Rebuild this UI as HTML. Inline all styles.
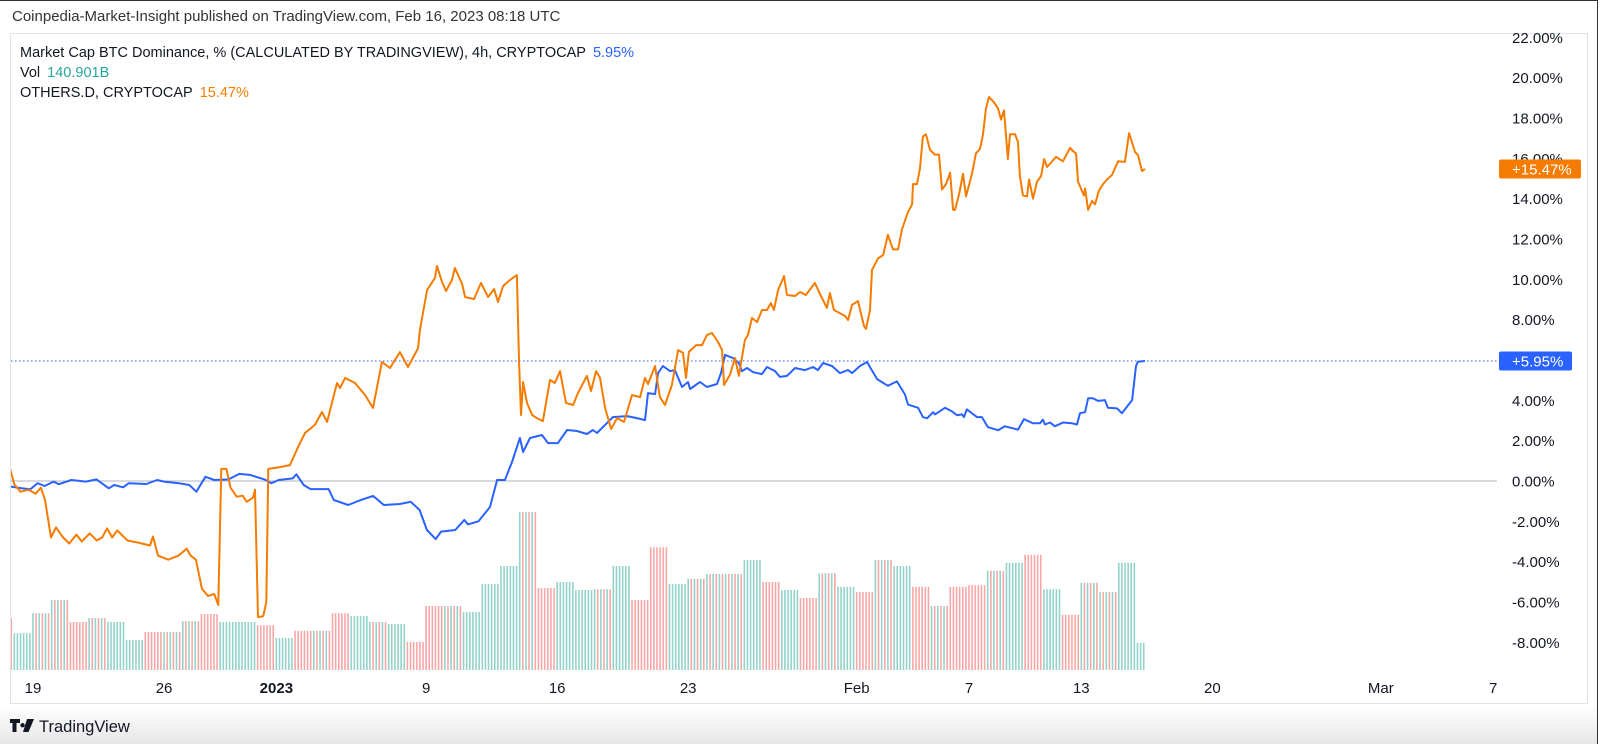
<!DOCTYPE html>
<html><head><meta charset="utf-8">
<style>
html,body{margin:0;padding:0;background:#fff;}
body{width:1600px;height:744px;overflow:hidden;position:relative;font-family:"Liberation Sans",sans-serif;color:#131722;}
#hdr{position:absolute;left:12px;top:8px;font-size:15px;color:#333;}
#foot{position:absolute;left:0;top:706px;width:1600px;height:38px;background:linear-gradient(#fff,#e6e6e7);}
#topline{position:absolute;left:0;top:0;width:1600px;height:1px;background:#333;}
#rightline{position:absolute;left:1597px;top:0;width:3px;height:744px;background:#fff;border-left:1px solid #333;}
svg{position:absolute;left:0;top:0;}
</style></head>
<body>
<div id="topline"></div>
<div id="hdr">Coinpedia-Market-Insight published on TradingView.com, Feb 16, 2023 08:18 UTC</div>
<div id="foot"></div>
<svg id="chart" width="1600" height="744"></svg>
<div id="rightline"></div>
<script>
// time axis: days since Dec 19, 2022
const othersT=[-1.22,-1.0,-0.67,-0.24,0.14,0.42,0.64,0.96,1.23,1.61,1.94,2.32,2.6,3.03,3.41,3.69,3.96,4.23,4.5,5.05,5.59,6.25,6.41,6.68,7.23,7.77,8.21,8.42,8.7,9.03,9.35,9.68,9.9,10.06,10.33,10.55,10.88,11.2,11.42,11.75,11.86,12.02,12.3,12.46,12.57,13.19,13.73,14.16,14.53,15.06,15.44,15.71,16.24,16.4,16.67,17.2,17.74,18.16,18.64,19.07,19.6,20.03,20.57,20.67,21.05,21.47,21.58,21.85,22.06,22.38,22.54,22.92,23.08,23.56,23.93,24.31,24.63,24.84,25.11,25.48,25.85,25.96,26.07,26.18,26.39,26.66,26.92,27.24,27.62,27.88,28.15,28.47,28.85,29.11,29.59,29.81,30.08,30.29,30.56,30.88,31.2,31.57,32.0,32.43,32.69,32.85,33.23,33.49,33.76,34.13,34.46,34.72,34.88,35.04,35.42,35.74,36.0,36.27,36.59,36.81,36.91,37.23,37.5,37.71,38.03,38.19,38.41,38.68,38.94,39.21,39.42,39.58,39.8,40.12,40.28,40.71,40.97,41.29,41.77,42.04,42.41,42.57,42.79,43.38,43.54,43.75,44.07,44.39,44.5,44.71,44.82,45.14,45.41,45.67,45.94,46.21,46.42,46.74,46.96,47.01,47.22,47.38,47.54,47.7,47.92,48.18,48.4,48.56,48.77,48.99,49.15,49.25,49.47,49.68,49.84,50.16,50.37,50.59,50.75,50.91,51.07,51.34,51.55,51.71,51.87,52.08,52.19,52.46,52.62,52.72,52.88,53.1,53.21,53.42,53.63,53.85,54.01,54.17,54.65,55.02,55.4,55.56,55.72,55.82,56.14,56.2,56.36,56.57,56.73,56.94,57.16,57.37,57.64,57.96,58.33,58.55,58.87,59.03,59.24,59.4];
const othersV=[0.59,-0.17,-0.53,-0.43,-0.63,-0.33,-0.93,-2.8,-2.3,-2.8,-3.1,-2.65,-3.0,-2.6,-2.95,-2.8,-2.35,-2.8,-2.45,-2.95,-3.05,-3.2,-2.75,-3.7,-3.9,-3.7,-3.35,-3.7,-3.9,-5.35,-5.7,-5.6,-6.15,0.6,0.6,-0.33,-0.78,-0.73,-1.03,-0.83,-0.43,-6.75,-6.7,-6.0,0.6,0.69,0.79,1.69,2.38,2.78,3.42,2.93,4.86,4.61,5.11,4.86,4.26,3.62,5.9,5.6,6.39,5.65,6.59,7.49,9.47,10.06,10.66,9.87,9.42,9.97,10.56,9.77,9.12,9.02,9.82,9.12,9.52,8.87,9.67,9.97,10.21,6.0,3.27,4.91,3.87,3.27,3.12,2.97,5.01,4.86,5.45,3.87,3.77,4.36,5.21,4.46,5.45,5.11,3.62,2.58,3.12,2.93,4.26,4.16,5.11,4.81,5.7,4.16,3.77,4.76,6.49,6.35,5.11,6.4,6.74,6.74,7.24,7.34,6.89,6.49,4.76,5.26,6.1,5.21,6.99,7.24,8.08,7.88,8.48,8.48,8.82,8.48,9.47,10.16,9.22,9.17,9.37,9.22,9.82,9.27,8.58,9.32,8.48,8.18,7.98,8.73,8.92,7.68,7.54,8.48,10.46,11.03,11.2,12.2,11.48,11.48,12.48,13.33,13.72,14.72,14.72,15.51,17.08,17.19,16.41,16.18,16.18,14.45,14.72,15.28,13.44,13.44,14.22,15.23,14.11,15.23,16.24,16.46,17.19,18.48,19.04,18.76,18.48,17.92,18.37,15.96,17.19,17.19,16.8,15.12,14.16,14.11,14.95,14.0,14.84,15.12,15.96,15.57,16.07,15.85,16.52,16.35,16.24,14.84,14.16,14.5,13.44,13.88,13.72,14.39,14.72,14.95,15.17,15.85,15.82,17.25,16.31,16.16,15.37,15.47];
const btcT=[-1.19,-0.62,-0.14,0.24,0.62,1.1,1.38,2.05,2.82,3.39,4.05,4.34,4.82,5.11,6.06,6.63,7.01,7.78,8.35,8.73,9.21,9.69,10.45,11.02,11.59,12.36,12.74,13.12,13.88,14.07,14.46,14.83,15.79,16.07,16.84,17.51,18.17,18.74,19.6,20.18,20.65,21.04,21.51,21.8,22.56,23.04,23.23,23.8,24.41,24.79,25.21,25.59,26.01,26.18,26.55,27.19,27.51,28.04,28.53,29.06,29.59,29.91,30.13,30.72,30.98,31.73,32.26,32.69,32.85,33.23,33.39,33.65,34.03,34.29,34.67,34.99,35.1,35.63,36.0,36.54,36.75,36.97,37.39,37.71,37.87,38.14,38.46,38.94,39.21,39.64,39.9,40.28,40.71,41.24,41.67,41.93,42.2,42.68,43.11,43.54,43.75,44.18,44.55,45.09,45.67,46.15,46.58,46.74,47.28,47.54,47.76,48.08,48.18,48.72,49.09,49.36,49.63,49.73,49.89,50.43,50.69,51.01,51.55,51.92,52.62,52.94,53.42,53.79,53.95,54.06,54.33,54.59,55.02,55.5,55.77,55.93,56.2,56.36,56.62,56.89,57.26,57.42,57.91,58.17,58.71,58.92,59.03,59.4];
const btcV=[-0.28,-0.36,-0.41,-0.11,-0.25,-0.03,-0.16,0.05,-0.03,0.08,-0.36,-0.2,-0.31,-0.11,-0.15,0.05,-0.03,-0.11,-0.2,-0.53,0.21,0.05,0.08,0.35,0.3,0.08,-0.11,0.05,0.13,0.33,-0.2,-0.4,-0.4,-0.94,-1.19,-0.94,-0.74,-1.19,-1.14,-1.03,-1.44,-2.43,-2.88,-2.51,-2.43,-1.93,-2.15,-2.0,-1.29,0.05,0.05,0.94,2.13,1.44,2.13,2.28,1.88,1.88,2.53,2.48,2.33,2.53,2.38,2.93,3.17,3.22,3.12,3.02,4.36,4.31,5.35,5.7,5.45,5.5,4.66,4.91,4.56,4.91,4.66,4.81,5.35,6.25,6.1,5.85,5.45,5.6,5.4,5.3,5.65,5.45,5.16,5.21,5.6,5.5,5.65,5.5,5.85,5.7,5.35,5.5,5.35,5.7,5.9,5.05,4.72,4.94,4.29,3.79,3.63,3.17,3.11,3.41,3.3,3.63,3.45,3.26,3.3,3.17,3.55,3.17,3.17,2.67,2.52,2.71,2.55,3.07,2.86,2.86,3.04,2.8,2.9,2.71,2.9,2.86,2.8,3.36,3.41,4.1,4.1,3.97,4.01,3.63,3.6,3.36,4.01,5.7,5.92,5.95];
// daily volume (billions, 6 x 4h bars per day); first entry = day -2
const volDays=[-2,-1,0,1,2,3,4,5,6,7,8,9,10,11,12,13,14,15,16,17,18,19,20,21,22,23,24,25,26,27,28,29,30,31,32,33,34,35,36,37,38,39,40,41,42,43,44,45,46,47,48,49,50,51,52,53,54,55,56,57,58,59];
const volume=[130,92,142,175,120,130,120,75,95,95,122,140,120,120,112,80,98,98,142,135,120,115,70,160,160,145,215,260,395,205,220,200,202,260,175,307,215,228,240,240,275,220,200,180,242,208,195,275,260,208,160,208,212,248,268,288,202,138,218,195,268,68];
const volColor=['r','g','m','m','r','m','g','g','r','m','m','r','g','g','r','g','r','m','r','g','m','g','r','r','m','g','g','g','m','r','g','g','m','g','r','r','g','m','m','m','g','r','g','r','m','g','r','m','g','r','m','r','r','m','g','r','g','r','m','m','g','g'];
const yTicks=[22,20,18,16,14,12,10,8,6,4,2,0,-2,-4,-6,-8];
const xTickDays=[0,7,13,21,28,35,44,50,56,63,72,78];
const xTickLabels=['19','26','2023','9','16','23','Feb','7','13','20','Mar','7'];

const NS='http://www.w3.org/2000/svg';
const svg=document.getElementById('chart');
const X=d=>33+18.72*d;
const Y=v=>481-20.17*v;
const VY=v=>670-v*0.4;
const FF='Liberation Sans, sans-serif';
function mk(tag,attrs,parent){const e=document.createElementNS(NS,tag);for(const k in attrs)e.setAttribute(k,attrs[k]);(parent||svg).appendChild(e);return e;}

const frame=mk('rect',{x:10.5,y:33.5,width:1577,height:670,fill:'none',stroke:'#e0e3eb'});


const clip=mk('clipPath',{id:'pc'});mk('rect',{x:11,y:34,width:1486,height:640},clip);
const plot=mk('g',{'clip-path':'url(#pc)'});



const vg=mk('g',{},plot);


volDays.forEach((d,i)=>{
  const n=d===59?3:6;
  for(let b=0;b<n;b++){
    let c=volColor[i];
    if(c==='m')c=(b%2===0)?'g':'r';
    const x=X(d+b/6);
    const r=mk('rect',{x:x-0.8,y:VY(volume[i]),width:1.6,height:670-VY(volume[i]),fill:c==='g'?'#93d3ca':'#f7a8a6'},vg);
    
    
  }
});
const zl=mk('line',{x1:11,x2:1497,y1:Y(0),y2:Y(0),stroke:'#b2b5be','stroke-width':1},plot);


const lastB=btcV[btcV.length-1], lastO=othersV[othersV.length-1];
const dl=mk('line',{x1:11,x2:1497,y1:Y(lastB),y2:Y(lastB),stroke:'#2962ff','stroke-width':1,'stroke-dasharray':'1.5 2.5'},plot);


function line(T,V,color,name){
  const d=T.map((t,i)=>(i?'L':'M')+X(t).toFixed(1)+' '+Y(V[i]).toFixed(1)).join(' ');
  const p=mk('path',{d:d,fill:'none',stroke:color,'stroke-width':2,'stroke-linejoin':'round'},plot);
  
  
}
line(btcT,btcV,'#2962ff','btc-dominance-line');
line(othersT,othersV,'#f57c00','others-d-line');

yTicks.forEach(v=>{
  const t=mk('text',{x:1512,y:Y(v)+5.5,'font-size':15,fill:'#131722','font-family':FF});
  t.textContent=v.toFixed(2)+'%';
  
  
});
function tag(v,color,w,name){
  const g=mk('g',{});
  
  
  mk('rect',{x:1499,y:Y(v)-9.5,width:w,height:19,rx:2,fill:color},g);
  const t=mk('text',{x:1512,y:Y(v)+5.5,'font-size':15,fill:'#fff','font-family':FF},g);
  t.textContent='+'+v.toFixed(2)+'%';
}
tag(lastO,'#f57c00',82,'others-price-tag');
tag(lastB,'#2962ff',73,'btc-price-tag');

xTickDays.forEach((d,i)=>{
  const t=mk('text',{x:X(d),y:693,'font-size':15,'text-anchor':'middle',fill:'#131722','font-weight':xTickLabels[i]==='2023'?'bold':'normal','font-family':FF});
  t.textContent=xTickLabels[i];
  
  
});

const legend=[[['Market Cap BTC Dominance, % (CALCULATED BY TRADINGVIEW), 4h, CRYPTOCAP','#131722'],['5.95%','#2962ff']],[['Vol','#131722'],['140.901B','#26a69a']],[['OTHERS.D, CRYPTOCAP','#131722'],['15.47%','#f57c00']]];
legend.forEach((row,i)=>{
  const t=mk('text',{x:20,y:57+i*20,'font-size':14.5,'font-family':FF});
  
  
  row.forEach((s,j)=>{const sp=mk('tspan',{fill:s[1],dx:j?7:0},t);sp.textContent=s[0];});
});

const lg=mk('g',{});


mk('path',{d:'M10 719h10v4h-3.5v9h-4v-9h-2.5z M22.5 723a2.2 2.2 0 1 0 0.1 0z M27 719h7l-5.5 13h-5.5z',fill:'#131722'},lg);
const lt=mk('text',{x:39,y:732,'font-size':16.5,fill:'#131722','font-family':FF},lg);
lt.textContent='TradingView';
</script>
</body></html>
